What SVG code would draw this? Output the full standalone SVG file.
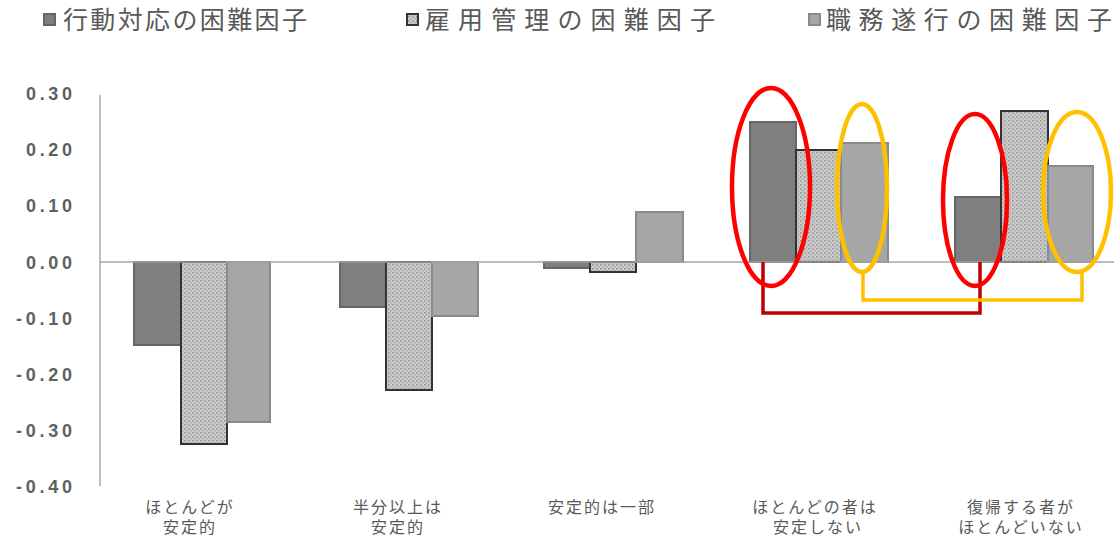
<svg xmlns="http://www.w3.org/2000/svg" width="1114" height="539" viewBox="0 0 1114 539">
<style>
.t{font-family:"Liberation Sans","Noto Sans CJK JP",sans-serif;fill:#595959}
.tick{font-size:18px;font-weight:bold;text-anchor:end;fill:#606060}
.leg{font-size:25px}
.cat{font-size:16px;text-anchor:middle}
.b1{fill:#7f7f7f;stroke:#666;stroke-width:2}
.b2{fill:url(#dots);stroke:#333;stroke-width:2}
.b3{fill:#a6a6a6;stroke:#8a8a8a;stroke-width:2}
.red{fill:none;stroke:#ff0000;stroke-width:4.5}
.org{fill:none;stroke:#ffc000;stroke-width:4.5}
</style>
<defs>
<pattern id="dots" width="4" height="4" patternUnits="userSpaceOnUse">
<rect width="4" height="4" fill="#cbcbcb"/>
<rect x="0" y="0" width="1.5" height="1.5" fill="#909090"/>
<rect x="2" y="2" width="1.5" height="1.5" fill="#a8a8a8"/>
</pattern>
</defs>
<rect width="1114" height="539" fill="#fff"/>
<g id="legend">
<rect class="b1" x="44" y="14" width="11" height="11"/>
<text class="t leg" x="63" y="29" textLength="244" lengthAdjust="spacing">行動対応の困難因子</text>
<rect class="b2" x="407" y="14" width="11" height="11"/>
<text class="t leg" x="425" y="29" textLength="290" lengthAdjust="spacing">雇用管理の困難因子</text>
<rect class="b3" x="809" y="14" width="11" height="11"/>
<text class="t leg" x="826" y="29" textLength="286" lengthAdjust="spacing">職務遂行の困難因子</text>
</g>
<g id="axis">
<line x1="100" y1="95" x2="100" y2="486" stroke="#bdbdbd" stroke-width="2"/>
<g class="t tick">
<text x="72" y="100" textLength="46" lengthAdjust="spacing">0.30</text>
<text x="72" y="156" textLength="46" lengthAdjust="spacing">0.20</text>
<text x="72" y="212" textLength="46" lengthAdjust="spacing">0.10</text>
<text x="72" y="269" textLength="46" lengthAdjust="spacing">0.00</text>
<text x="72" y="325" textLength="56" lengthAdjust="spacing">-0.10</text>
<text x="72" y="381" textLength="56" lengthAdjust="spacing">-0.20</text>
<text x="72" y="437" textLength="56" lengthAdjust="spacing">-0.30</text>
<text x="72" y="493" textLength="56" lengthAdjust="spacing">-0.40</text>
</g>
</g>
<g id="bars">
<rect class="b1" x="134" y="262" width="47" height="83"/>
<rect class="b2" x="181" y="262" width="46" height="182"/>
<rect class="b3" x="227" y="262" width="43" height="160"/>
<rect class="b1" x="340" y="262" width="46" height="45"/>
<rect class="b2" x="386" y="262" width="46" height="128"/>
<rect class="b3" x="432" y="262" width="46" height="54"/>
<rect class="b1" x="544" y="262" width="46" height="6"/>
<rect class="b2" x="590" y="262" width="46" height="10"/>
<rect class="b3" x="636" y="212" width="47" height="50"/>
<rect class="b1" x="750" y="122" width="46" height="140"/>
<rect class="b2" x="796" y="150" width="45" height="112"/>
<rect class="b3" x="841" y="143" width="47" height="119"/>
<rect class="b1" x="955" y="197" width="46" height="65"/>
<rect class="b2" x="1001" y="111" width="47" height="151"/>
<rect class="b3" x="1048" y="166" width="45" height="96"/>
</g>
<line id="zero" x1="100" y1="262" x2="1114" y2="262" stroke="#a6a6a6" stroke-width="1.5"/>
<g id="categories" class="t cat">
<text x="190" y="513" letter-spacing="2">ほとんどが</text>
<text x="190" y="533" letter-spacing="2">安定的</text>
<text x="398" y="513" letter-spacing="2">半分以上は</text>
<text x="398" y="533" letter-spacing="2">安定的</text>
<text x="602" y="513" letter-spacing="2">安定的は一部</text>
<text x="815" y="513" letter-spacing="2">ほとんどの者は</text>
<text x="818" y="533" letter-spacing="2">安定しない</text>
<text x="1021" y="513" letter-spacing="2">復帰する者が</text>
<text x="1021" y="533" letter-spacing="2">ほとんどいない</text>
</g>
<g id="connectors" fill="none">
<polyline points="763,262 763,313 980,313 980,262" stroke="#c00000" stroke-width="3.5"/>
<polyline points="863,272 863,300 1082,300 1082,272" stroke="#ffc000" stroke-width="3.5"/>
</g>
<g id="highlights">
<ellipse class="red" cx="771" cy="187" rx="39" ry="99"/>
<ellipse class="org" cx="862" cy="188" rx="25" ry="84"/>
<ellipse class="red" cx="975" cy="200" rx="32" ry="86"/>
<ellipse class="org" cx="1077" cy="192" rx="34" ry="80"/>
</g>
</svg>
